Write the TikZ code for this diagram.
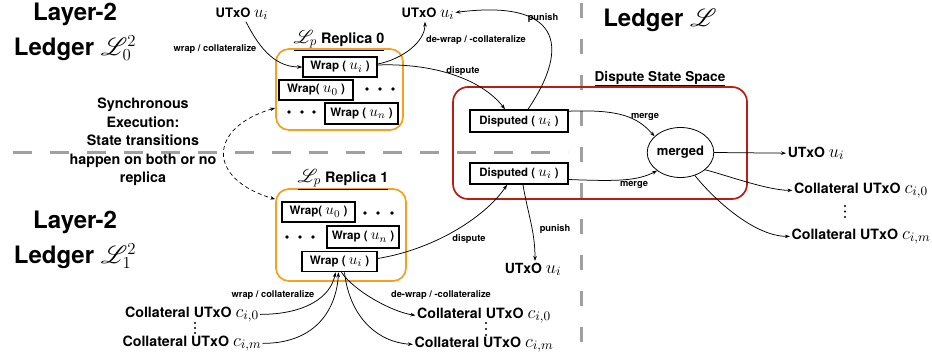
\RequirePackage{fix-cm}
\documentclass[tikz,border=0pt]{standalone}
\usepackage{graphicx}
\usepackage{mathrsfs}
\usepackage{fontspec}
\setmainfont{TeX Gyre Heros}
\usetikzlibrary{arrows.meta,calc,shapes.geometric}

\definecolor{replicaorange}{RGB}{245,160,35}
\definecolor{disputered}{RGB}{185,30,20}
\definecolor{sepgray}{RGB}{160,160,160}

\newcommand\fsz[1]{\fontsize{#1}{#1}\selectfont\bfseries}
% math symbols set a little larger than the sans text around them
\newcommand\mth[1]{\scalebox{1.3}{$#1$}}

\begin{document}
\begin{tikzpicture}[x=1pt,y=-1pt,
  big/.style={font=\fsz{24}, inner sep=0, anchor=base},
  mid/.style={font=\fsz{14}, inner sep=1.5, anchor=base},
  coll/.style={font=\fsz{14.2}, inner sep=1.5, anchor=base},
  small/.style={font=\fsz{9.3}, inner sep=0, anchor=base},
  wbox/.style={draw, line width=1.6pt, font=\fsz{11.6}, inner sep=0, minimum height=20},
  dbox/.style={draw, line width=1.6pt, font=\fsz{11.4}, inner sep=0, minimum width=98, minimum height=22},
  obox/.style={draw=replicaorange, line width=1.7pt, rounded corners=13},
  rbox/.style={draw=disputered, line width=1.7pt, rounded corners=15},
  arr/.style={line width=0.75pt, -{Stealth[length=5pt,width=3.6pt]}},
  sep/.style={draw=sepgray, line width=3pt},
  dot/.style={fill=black}
]
\useasboundingbox (0,0) rectangle (932,356);

% separators between the ledgers
\draw[sep, dash pattern=on 19 off 18] (13,152) -- (568,152);
\draw[sep, dash pattern=on 15 off 21] (581,3) -- (581,356);

% ledger titles
\node[big] (l2a) at (75,20) {Layer-2};
\node[big] (lda) at (75,55) {Ledger $\mathscr{L}^2_0$};
\node[big] (l2b) at (75,228) {Layer-2};
\node[big] (ldb) at (75,263) {Ledger $\mathscr{L}^2_1$};
\node[big] (ldm) at (660,27) {Ledger $\mathscr{L}$};

\node[font=\fontsize{14.3}{18.4}\selectfont\bfseries, align=center, inner sep=0] (sync) at (143,142)
  {Synchronous\\Execution:\\State transitions\\happen on both or no\\replica};

% replica containers
\node[obox, minimum width=127, minimum height=81] (o0) at (339.5,89.5) {};
\node[obox, minimum width=130, minimum height=92] (o1) at (341,235) {};
\node[rbox, minimum width=294, minimum height=112] (rd) at (600,143) {};

\node[font=\fsz{14.4}, inner sep=0, anchor=base] (t0) at (339,43) {\underline{\mth{\mathscr{L}_p} Replica 0}};
\node[font=\fsz{14.4}, inner sep=0, anchor=base] (t1) at (343,182) {\underline{\mth{\mathscr{L}_p} Replica 1}};
\node[font=\fsz{13.6}, inner sep=0, anchor=base] (tds) at (660,81) {\underline{Dispute State Space}};

% wrapped outputs, replica 0
\node[wbox, minimum width=74] (w1) at (340,67) {Wrap ( \mth{u_i} )};
\node[wbox, minimum width=74] (w0a) at (316,90) {Wrap( \mth{u_0} )};
\node[wbox, minimum width=73, minimum height=21] (wna) at (361.5,113.5) {Wrap ( \mth{u_n} )};
\foreach \x in {367,380,393} \fill[dot] (\x,89) circle (1.8);
\foreach \x in {289,302,314} \fill[dot] (\x,112) circle (1.8);

% wrapped outputs, replica 1
\node[wbox, minimum width=73] (w0b) at (318.5,212) {Wrap( \mth{u_0} )};
\node[wbox, minimum width=72, minimum height=22] (wnb) at (363,237) {Wrap ( \mth{u_n} )};
\node[wbox, minimum width=75] (w3) at (339.5,261.5) {Wrap ( \mth{u_i} )};
\foreach \x in {365,378,392} \fill[dot] (\x,213) circle (1.8);
\foreach \x in {287,300,313} \fill[dot] (\x,237) circle (1.8);

% dispute state space
\node[dbox] (d1) at (519,121) {Disputed ( \mth{u_i} )};
\node[dbox, minimum height=21] (d2) at (519,173.5) {Disputed ( \mth{u_i} )};
\node[ellipse, draw, line width=0.8pt, minimum width=55, minimum height=50, inner sep=0, font=\fsz{13}] (mg) at (680.5,152.5) {merged};

% outputs
\node[font=\fsz{13}, inner sep=1, anchor=base] (ut0) at (242,17) {UTxO \mth{u_i}};
\node[font=\fsz{13}, inner sep=1, anchor=base] (ut1) at (428,17) {UTxO \mth{u_i}};
\node[mid] (ut2) at (816,157) {UTxO \mth{u_i}};
\node[mid] (ut3) at (533,273) {UTxO \mth{u_i}};
\node[coll] (cr0) at (861,193) {Collateral UTxO \mth{c_{i,0}}};
\node[coll] (crm) at (861,239) {Collateral UTxO \mth{c_{i,m}}};
\node[coll, inner sep=1] (cl0) at (192,317) {Collateral UTxO \mth{c_{i,0}}};
\node[coll, inner sep=1] (clm) at (192,346) {Collateral UTxO \mth{c_{i,m}}};
\node[coll] (cb0) at (484,318) {Collateral UTxO \mth{c_{i,0}}};
\node[coll] (cbm) at (484,347) {Collateral UTxO \mth{c_{i,m}}};
\foreach \y in {323,328,333} \fill[dot] (195,\y) circle (1.1);
\foreach \y in {323,329,335} \fill[dot] (486,\y) circle (1.1);
\foreach \y in {206,211.5,217} \fill[dot] (845,\y) circle (1.1);

% transition labels
\node[small] (lw0) at (215,51) {wrap / collateralize};
\node[small] (ldw0) at (476,42) {de-wrap / -collateralize};
\node[small] (ldp0) at (463,73) {dispute};
\node[small] (lpn0) at (543,20) {punish};
\node[small] (lm0) at (645,118) {merge};
\node[small] (lm1) at (634,186) {merge};
\node[small] (ldp1) at (469,241) {dispute};
\node[small] (lpn1) at (555,231) {punish};
\node[small] (lw1) at (273,297) {wrap / collateralize};
\node[small] (ldw1) at (441,297) {de-wrap / -collateralize};

% transitions, replica 0
\draw[arr] ($(ut0.south)+(4,1)$) .. controls +(15,30) and +(-25,0) .. (w1.west);
\draw[arr] ($(w1.east)+(0,-3)$) .. controls +(25,-5) and +(0,20) .. ($(ut1.south)+(-3,1)$);
\draw[arr] ($(w1.east)+(0,-2)$) .. controls +(52,-2) and +(-25,-32) .. ($(d1.north)+(-14,0)$);

% transitions, dispute state space
\draw[arr] ($(d1.north)+(9,0)$) .. controls +(44,-65) and +(103,-13) .. ($(ut1.east)+(0,-1)$);
\draw[arr] ($(d1.north east)+(0,2)$) .. controls +(52,-2) and +(-17,-19) .. (mg.148);
\draw[arr] ($(d2.east)+(0,6)$) .. controls +(50,2) and +(-20,10) .. (mg.218);
\draw[arr] (mg.east) -- (ut2.west);
\draw[arr] (mg.-35) .. controls +(20,5) and +(-25,0) .. (cr0.west);
\draw[arr] (mg.-58) .. controls +(20,25) and +(-35,0) .. (crm.west);
\draw[arr] ($(d2.south)+(4,0)$) .. controls +(5,30) and +(0,-30) .. ($(ut3.north)+(2,0)$);

% transitions, replica 1
\draw[arr] ($(w3.east)+(0,-3)$) .. controls +(60,-10) and +(-20,30) .. ($(d2.south)+(-12,0)$);
\draw[arr] (cl0.east) .. controls +(45,0) and +(-5,25) .. ($(w3.south)+(-4,0)$);
\draw[arr] (clm.east) .. controls +(55,0) and +(-2,35) .. ($(w3.south)+(-1,0)$);
\draw[arr] ($(w3.south)+(2,0)$) .. controls +(12,18) and +(-25,-4) .. (cb0.west);
\draw[arr] ($(w3.south)+(5,0)$) .. controls +(5,45) and +(-35,-2) .. (cbm.west);

% synchronous execution between the replicas
\draw[line width=0.7pt, dash pattern=on 4 off 3,
  {Stealth[length=5pt,width=3.6pt]}-{Stealth[length=5pt,width=3.6pt]}]
  ($(o0.west)+(0,18.5)$) .. controls +(-68,20) and +(-68,-20) .. ($(o1.north west)+(0,11)$);
\end{tikzpicture}
\end{document}
